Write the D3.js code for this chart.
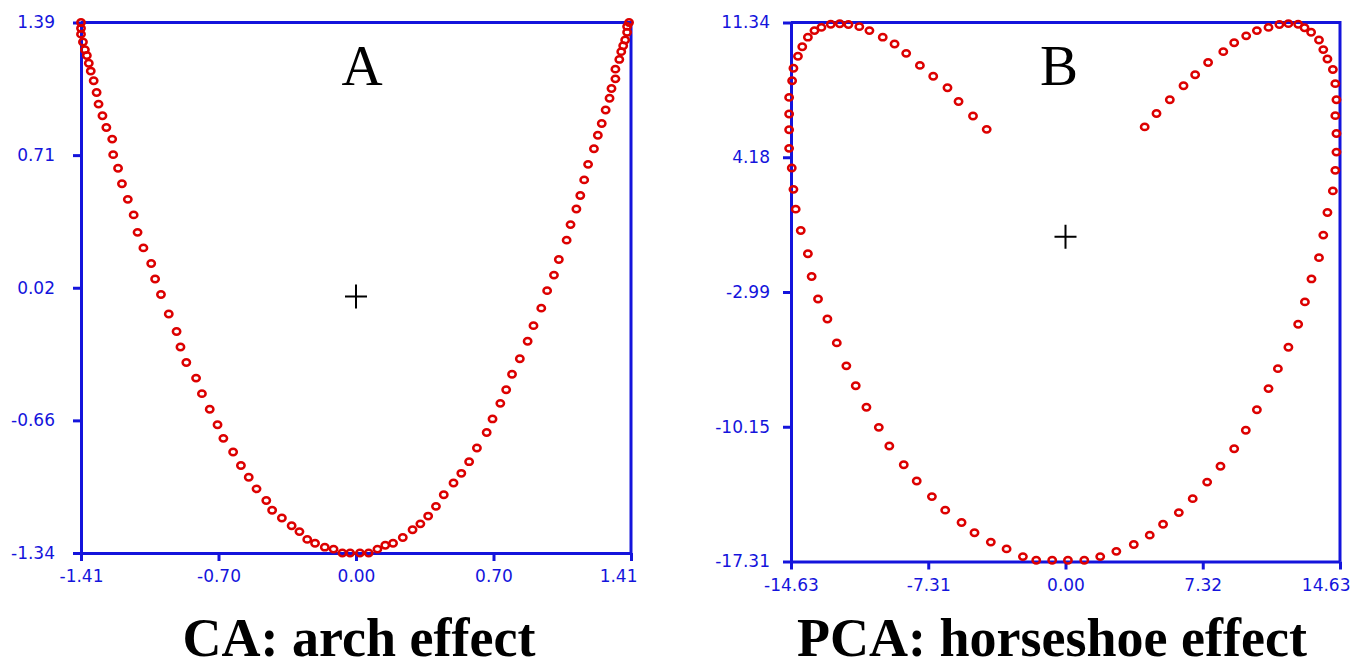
<!DOCTYPE html>
<html>
<head>
<meta charset="utf-8">
<script src="https://cdn.jsdelivr.net/npm/d3@7"></script>
<style>
  body { margin: 0; background: #fff; }
  svg { display: block; }
</style>
</head>
<body>
<svg width="1352" height="661"></svg>
<script>
// CA scores (panel A)
const caX = [-1.41,-1.41,-1.41,-1.40,-1.39,-1.38,-1.37,-1.36,-1.345,-1.33,-1.32,-1.30,-1.28,-1.25,-1.245,-1.22,-1.20,-1.17,-1.14,-1.12,-1.09,-1.05,-1.03,-1.00,-0.96,-0.92,-0.90,-0.87,-0.82,-0.79,-0.75,-0.71,-0.68,-0.63,-0.59,-0.55,-0.51,-0.46,-0.43,-0.38,-0.33,-0.29,-0.25,-0.21,-0.16,-0.115,-0.07,-0.03,0.02,0.065,
  0.11,0.15,0.19,0.24,0.29,0.33,0.37,0.41,0.45,0.50,0.54,0.58,0.62,0.67,0.70,0.74,0.77,0.80,0.84,0.88,0.91,0.95,0.98,1.015,1.04,1.08,1.10,1.13,1.15,1.17,1.19,1.22,1.24,1.26,1.28,1.30,1.31,1.33,1.33,1.35,1.36,1.37,1.38,1.39,1.39,1.40];
const caY = [1.39,1.36,1.33,1.29,1.25,1.22,1.18,1.14,1.09,1.03,0.97,0.91,0.85,0.79,0.71,0.64,0.56,0.48,0.40,0.31,0.23,0.15,0.07,-0.01,-0.11,-0.20,-0.28,-0.36,-0.44,-0.52,-0.60,-0.68,-0.75,-0.82,-0.89,-0.95,-1.01,-1.07,-1.12,-1.16,-1.20,-1.23,-1.27,-1.29,-1.31,-1.32,-1.34,-1.34,-1.34,-1.34,
  -1.32,-1.30,-1.29,-1.26,-1.22,-1.19,-1.15,-1.10,-1.04,-0.98,-0.93,-0.87,-0.80,-0.72,-0.65,-0.57,-0.50,-0.42,-0.34,-0.25,-0.17,-0.08,0.01,0.09,0.17,0.27,0.35,0.43,0.50,0.58,0.66,0.74,0.81,0.87,0.94,1.00,1.05,1.10,1.15,1.20,1.24,1.27,1.30,1.34,1.37,1.39];

// PCA scores (panel B)
const pcaX = [-4.20,-4.93,-5.70,-6.29,-7.05,-7.76,-8.49,-9.11,-9.74,-10.45,-10.99,-11.57,-12.03,-12.51,-13.01,-13.38,-13.73,-14.03,-14.26,-14.50,-14.57,-14.73,-14.73,-14.73,-14.73,-14.59,-14.50,-14.38,-14.11,-13.73,-13.53,-13.19,-12.69,-12.19,-11.68,-11.18,-10.61,-9.95,-9.39,-8.62,-7.93,-7.12,-6.41,-5.54,-4.85,-3.98,-3.14,-2.27,-1.56,-0.71,
  0.13,1.00,1.85,2.71,3.64,4.49,5.20,6.04,6.78,7.55,8.26,8.99,9.61,10.20,10.82,11.32,11.88,12.40,12.76,13.11,13.51,13.74,13.96,14.25,14.38,14.44,14.44,14.38,14.44,14.38,14.25,13.96,13.74,13.51,13.09,12.74,12.40,11.88,11.40,10.82,10.20,9.63,8.99,8.41,7.60,6.91,6.29,5.56,4.85,4.22];
const pcaY = [5.66,6.37,7.14,7.87,8.48,9.06,9.70,10.20,10.56,10.91,11.12,11.23,11.27,11.25,11.08,10.91,10.56,10.05,9.55,8.91,8.24,7.36,6.48,5.64,4.65,3.61,2.47,1.42,0.28,-0.95,-2.16,-3.36,-4.42,-5.69,-6.91,-7.97,-9.11,-10.18,-11.17,-12.17,-13.03,-13.86,-14.58,-15.24,-15.78,-16.28,-16.64,-17.05,-17.24,-17.24,
  -17.24,-17.24,-17.05,-16.77,-16.41,-15.91,-15.33,-14.71,-13.97,-13.09,-12.25,-11.32,-10.33,-9.24,-8.12,-7.06,-5.92,-4.70,-3.51,-2.29,-1.16,0.04,1.24,2.39,3.48,4.45,5.44,6.39,7.23,8.09,8.84,9.40,9.90,10.41,10.82,11.06,11.25,11.28,11.23,11.08,10.91,10.63,10.26,9.79,9.21,8.56,7.98,7.23,6.50,5.79];

const caXTicks = [-1.41, -0.705, 0, 0.705, 1.41];
const caXLabels = ["-1.41", "-0.70", "0.00", "0.70", "1.41"];
const caYTicks = [-1.34, -0.6575, 0.025, 0.7075, 1.39];
const caYLabels = ["-1.34", "-0.66", "0.02", "0.71", "1.39"];

const pcaXTicks = [-14.63, -7.315, 0, 7.315, 14.63];
const pcaXLabels = ["-14.63", "-7.31", "0.00", "7.32", "14.63"];
const pcaYTicks = [-17.31, -10.1475, -2.985, 4.1775, 11.34];
const pcaYLabels = ["-17.31", "-10.15", "-2.99", "4.18", "11.34"];

const caCentroid = [0, -0.02];
const pcaCentroid = [0, -0.05];

const panelLetters = ["A", "B"];
const panelTitles = ["CA: arch effect", "PCA: horseshoe effect"];

const blue = "#1414dc";
const red = "#dc0000";

const svg = d3.select("svg");

function drawPanel(opts) {
  const xScale = d3.scaleLinear()
    .domain([opts.xTicks[0], opts.xTicks[opts.xTicks.length - 1]])
    .range([opts.left, opts.right]);
  const yScale = d3.scaleLinear()
    .domain([opts.yTicks[0], opts.yTicks[opts.yTicks.length - 1]])
    .range([opts.bottom, opts.top]);

  const g = svg.append("g");

  // bottom axis
  const xAxis = d3.axisBottom(xScale)
    .tickValues(opts.xTicks)
    .tickFormat((d, i) => opts.xLabels[i])
    .tickSize(8)
    .tickSizeOuter(0)
    .tickPadding(9);
  const gx = g.append("g")
    .attr("transform", "translate(0," + opts.bottom + ")")
    .call(xAxis);

  // left axis
  const yAxis = d3.axisLeft(yScale)
    .tickValues(opts.yTicks)
    .tickFormat((d, i) => opts.yLabels[i])
    .tickSize(8)
    .tickSizeOuter(0)
    .tickPadding(opts.yPad);
  const gy = g.append("g")
    .attr("transform", "translate(" + opts.left + ",0)")
    .call(yAxis);

  [gx, gy].forEach(a => {
    a.selectAll("path, line").attr("stroke", blue).attr("stroke-width", 3);
    a.selectAll("text")
      .attr("fill", blue)
      .style("font-family", "'DejaVu Sans', sans-serif")
      .style("font-size", "17px");
  });
  // keep the last x label inside
  gx.selectAll("text").filter((d, i) => i === opts.xTicks.length - 1)
    .attr("text-anchor", "end")
    .attr("x", opts.lastDx);

  // top and right frame lines
  g.append("line")
    .attr("x1", opts.left).attr("x2", opts.right)
    .attr("y1", opts.top).attr("y2", opts.top)
    .attr("stroke", blue).attr("stroke-width", 3);
  g.append("line")
    .attr("x1", opts.right).attr("x2", opts.right)
    .attr("y1", opts.top - 1.5).attr("y2", opts.bottom)
    .attr("stroke", blue).attr("stroke-width", 3);

  // points
  g.append("g").selectAll("ellipse")
    .data(opts.xs.map((x, i) => [x, opts.ys[i]]))
    .enter()
    .append("ellipse")
    .attr("cx", d => xScale(d[0]))
    .attr("cy", d => yScale(d[1]))
    .attr("rx", 3.7)
    .attr("ry", 3.2)
    .attr("fill", "none")
    .attr("stroke", red)
    .attr("stroke-width", 2.5);

  // centroid cross
  const cx = xScale(opts.centroid[0]), cy = yScale(opts.centroid[1]);
  g.append("path")
    .attr("d", `M${cx - 11},${cy}H${cx + 11}M${cx},${cy - 12}V${cy + 12}`)
    .attr("stroke", "#000")
    .attr("stroke-width", 2);

  // panel letter
  g.append("text")
    .attr("x", opts.letterX)
    .attr("y", 85)
    .attr("text-anchor", "middle")
    .style("font-family", "'Liberation Serif', 'Times New Roman', serif")
    .style("font-size", "57px")
    .text(opts.letter);

  // caption
  g.append("text")
    .attr("x", opts.titleX)
    .attr("y", 656)
    .attr("text-anchor", "middle")
    .style("font-family", "'Liberation Serif', 'Times New Roman', serif")
    .style("font-weight", "bold")
    .style("font-size", "54px")
    .text(opts.title);
}

drawPanel({
  xs: caX, ys: caY,
  xTicks: caXTicks, xLabels: caXLabels,
  yTicks: caYTicks, yLabels: caYLabels,
  left: 81, right: 631, top: 22.5, bottom: 553,
  yPad: 18, lastDx: 6,
  centroid: caCentroid,
  letter: panelLetters[0], letterX: 362,
  title: panelTitles[0], titleX: 359
});

drawPanel({
  xs: pcaX, ys: pcaY,
  xTicks: pcaXTicks, xLabels: pcaXLabels,
  yTicks: pcaYTicks, yLabels: pcaYLabels,
  left: 791, right: 1340, top: 22.5, bottom: 561.5,
  yPad: 13, lastDx: 10,
  centroid: pcaCentroid,
  letter: panelLetters[1], letterX: 1059,
  title: panelTitles[1], titleX: 1052
});
</script>
</body>
</html>
